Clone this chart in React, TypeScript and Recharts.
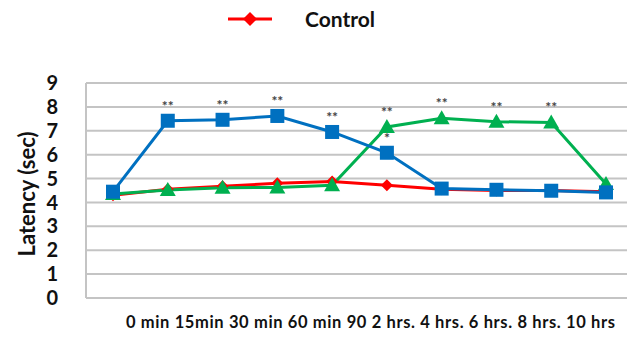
import React from 'react';
import { LineChart, Line, XAxis, YAxis, CartesianGrid, LabelList } from 'recharts';

const timePoints = ['0 min', '15min', '30 min', '60 min', '90', '2 hrs.', '4 hrs.', '6 hrs.', '8 hrs.', '10 hrs'];
const control = [4.3, 4.55, 4.68, 4.8, 4.88, 4.72, 4.55, 4.5, 4.5, 4.45];
const groupB = [4.45, 7.42, 7.46, 7.62, 6.95, 6.08, 4.58, 4.53, 4.49, 4.42];
const groupC = [4.35, 4.52, 4.62, 4.63, 4.72, 7.16, 7.52, 7.38, 7.35, 4.77];
const sigB = ['', '**', '**', '**', '**', '*', '', '', '', ''];
const sigC = ['', '', '', '', '', '**', '**', '**', '**', ''];
const yTicks = [0, 1, 2, 3, 4, 5, 6, 7, 8, 9];

const data = timePoints.map((t, i) => ({
    time: t,
    control: control[i],
    groupB: groupB[i],
    groupC: groupC[i],
    sigB: sigB[i],
    sigC: sigC[i],
}));

const FONT = 'Lato, "Open Sans", sans-serif';
const RED = '#FF0000';
const BLUE = '#0070C0';
const GREEN = '#00B050';
const GRID = '#C4C4C4';

const Diamond = (props: any) => {
    const { cx, cy, r = 6 } = props;
    if (cx == null || cy == null) return null;
    return <path d={`M${cx},${cy - r} L${cx + r},${cy} L${cx},${cy + r} L${cx - r},${cy} Z`} fill={RED} />;
};

const Square = (props: any) => {
    const { cx, cy } = props;
    if (cx == null || cy == null) return null;
    return <rect x={cx - 7} y={cy - 7} width={14} height={14} fill={BLUE} />;
};

const Triangle = (props: any) => {
    const { cx, cy } = props;
    if (cx == null || cy == null) return null;
    return <path d={`M${cx},${cy - 8} L${cx + 8},${cy + 6} L${cx - 8},${cy + 6} Z`} fill={GREEN} />;
};

// in the original the category labels are one flowed row of text, offset from the points,
// so the first tick draws the whole row and the others draw nothing
const XTick = (props: any) => {
    const { x, y, index } = props;
    if (index !== 0) return null;
    return (
        <text
            x={x + 13}
            y={y + 22}
            textAnchor="start"
            fontFamily={FONT}
            fontWeight={700}
            fontSize={16.5}
            fill="#111"
            textLength={489}
            lengthAdjust="spacing"
            style={{ whiteSpace: 'pre' }}
        >
            {timePoints.map((t, i) => (
                <tspan key={t}>{(i > 0 ? ' ' : '') + t}</tspan>
            ))}
        </text>
    );
};

// only the control series is shown in the legend
const ControlLegend = () => (
    <div style={{ display: 'flex', alignItems: 'center', position: 'absolute', left: 226, top: 9 }}>
        <svg width={50} height={20}>
            <line x1={2} y1={10} x2={46} y2={10} stroke={RED} strokeWidth={3} />
            <path d="M24,3 L31,10 L24,17 L17,10 Z" fill={RED} />
        </svg>
        <span style={{ marginLeft: 29, fontFamily: FONT, fontWeight: 700, fontSize: 21, color: '#111', lineHeight: '20px' }}>Control</span>
    </div>
);

const SigLabel = (props: any) => {
    const { x, y, value } = props;
    if (!value) return null;
    return (
        <text x={x} y={y - 10} textAnchor="middle" fontFamily={FONT} fontWeight={700} fontSize={14} fill="#444">
            {value}
        </text>
    );
};

export default function App() {
    return (
        <div style={{ position: 'absolute', left: 0, top: 0, width: 627, height: 338, overflow: 'hidden', background: '#fff' }}>
            <ControlLegend />
            <LineChart width={640} height={338} data={data} margin={{ top: 83, right: 7, bottom: 0, left: 0 }}>
                <CartesianGrid vertical={false} stroke={GRID} strokeWidth={2} />
                <XAxis
                    dataKey="time"
                    padding={{ left: 27, right: 27 }}
                    axisLine={{ stroke: GRID, strokeWidth: 2 }}
                    tickLine={false}
                    tick={<XTick />}
                    height={40}
                    interval={0}
                />
                <YAxis
                    domain={[0, 9]}
                    ticks={yTicks}
                    interval={0}
                    width={86}
                    axisLine={{ stroke: GRID, strokeWidth: 2 }}
                    tickLine={false}
                    tickSize={0}
                    tickMargin={28}
                    tick={{ fontFamily: FONT, fontWeight: 700, fontSize: 20, fill: '#111' }}
                    label={{
                        value: 'Latency (sec)',
                        angle: -90,
                        position: 'insideLeft',
                        dx: 22,
                        dy: 66,
                        style: { fontFamily: FONT, fontWeight: 700, fontSize: 22, fill: '#111' },
                    }}
                />
                <Line dataKey="control" stroke={RED} strokeWidth={3} dot={<Diamond r={6} />} isAnimationActive={false} />
                <Line dataKey="groupC" stroke={GREEN} strokeWidth={3} dot={<Triangle />} isAnimationActive={false}>
                    <LabelList dataKey="sigC" content={<SigLabel />} />
                </Line>
                <Line dataKey="groupB" stroke={BLUE} strokeWidth={3} dot={<Square />} isAnimationActive={false}>
                    <LabelList dataKey="sigB" content={<SigLabel />} />
                </Line>
            </LineChart>
        </div>
    );
}
